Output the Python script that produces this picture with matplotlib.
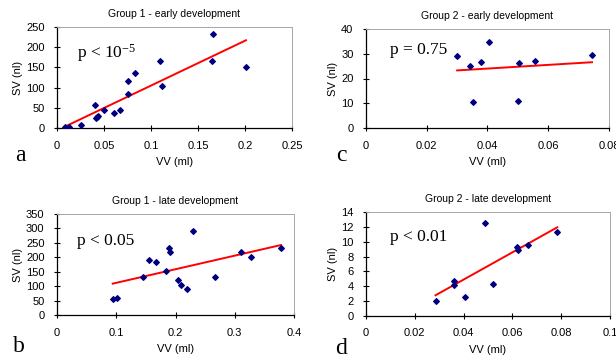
import matplotlib
matplotlib.use('Agg')
import matplotlib.pyplot as plt
import numpy as np

plt.rcParams['font.family'] = 'Liberation Sans'
plt.rcParams['mathtext.default'] = 'regular'

# Data
# Group 1 - early development
g1e_vv = [0.009, 0.012, 0.013, 0.026, 0.040, 0.041, 0.043, 0.044, 0.050, 0.061,
          0.067, 0.075, 0.076, 0.083, 0.110, 0.112, 0.165, 0.166, 0.201]
g1e_sv = [3, 1, 2, 8, 56, 25, 28, 30, 44, 37, 45, 117, 85, 136, 165, 104, 165, 233, 150]

# Group 2 - early development
g2e_vv = [0.030, 0.0344, 0.0352, 0.0378, 0.0404, 0.0501, 0.0503, 0.0557, 0.0744]
g2e_sv = [29.0, 25.1, 10.5, 26.8, 34.7, 10.8, 26.1, 27.2, 29.5]

# Group 1 - late development
g1l_vv = [0.094, 0.101, 0.145, 0.155, 0.167, 0.184, 0.189, 0.191, 0.205, 0.210,
          0.220, 0.229, 0.267, 0.311, 0.327, 0.378]
g1l_sv = [57, 60, 130, 190, 183, 154, 233, 219, 123, 103, 89, 291, 132, 220, 202, 233]

# Group 2 - late development
g2l_vv = [0.0285, 0.036, 0.036, 0.0407, 0.0488, 0.052, 0.0617, 0.0622, 0.0665, 0.0784]
g2l_sv = [2.07, 4.73, 4.14, 2.52, 12.57, 4.28, 9.32, 8.83, 9.6, 11.26]

panels = [
    # (x, y, title, p text, letter, xticks, yticks, axes box px, p pos, letter pos px)
    (g1e_vv, g1e_sv, 'Group 1 - early development', r'p < 10$^{-5}$', 'a',
     [0, 0.05, 0.1, 0.15, 0.2, 0.25], [0, 50, 100, 150, 200, 250],
     [57, 292, 27, 128], (0.085, 0.74), (20, 155)),
    (g2e_vv, g2e_sv, 'Group 2 - early development', 'p = 0.75', 'c',
     [0, 0.02, 0.04, 0.06, 0.08], [0, 10, 20, 30, 40],
     [366, 609, 29, 128], (0.099, 0.79), (341, 155)),
    (g1l_vv, g1l_sv, 'Group 1 - late development', 'p < 0.05', 'b',
     [0, 0.1, 0.2, 0.3, 0.4], [0, 50, 100, 150, 200, 250, 300, 350],
     [57, 294, 214, 315], (0.085, 0.73), (19, 346)),
    (g2l_vv, g2l_sv, 'Group 2 - late development', 'p < 0.01', 'd',
     [0, 0.02, 0.04, 0.06, 0.08, 0.1], [0, 2, 4, 6, 8, 10, 12, 14],
     [366, 610, 212, 316], (0.098, 0.76), (341, 349)),
]

W, H = 616, 358
fig = plt.figure(figsize=(W / 100, H / 100), dpi=100, facecolor='white')

for vv, sv, title, ptxt, letter, xt, yt, (l, r, t, b), ppos, lpos in panels:
    ax = fig.add_axes([l / W, 1 - b / H, (r - l) / W, (b - t) / H])
    ax.set_facecolor('white')
    ax.scatter(vv, sv, marker='D', s=8, color='#00007f', zorder=3)
    # linear trend line over the data range
    k, c0 = np.polyfit(vv, sv, 1)
    xs = np.array([min(vv), max(vv)])
    ax.plot(xs, k * xs + c0, color='red', lw=1.4, zorder=2)

    ax.set_xlim(xt[0], xt[-1])
    ax.set_ylim(yt[0], yt[-1])
    ax.set_xticks(xt)
    ax.set_xticklabels(['{:g}'.format(v) for v in xt])
    ax.set_yticks(yt)
    ax.set_yticklabels(['{:g}'.format(v) for v in yt])
    ax.tick_params(direction='inout', length=5, width=0.8, labelsize=8)
    ax.tick_params(axis='x', pad=6.5)
    ax.tick_params(axis='y', pad=6.5)
    for s in ('top', 'right'):
        ax.spines[s].set_color('#a6a6a6')
        ax.spines[s].set_linewidth(0.7)
    for s in ('left', 'bottom'):
        ax.spines[s].set_linewidth(0.9)
        ax.spines[s].set_clip_on(False)

    ax.set_title(title, fontsize=7.5, pad=7)
    ax.set_xlabel('VV (ml)', fontsize=8, labelpad=5)
    ax.set_ylabel('SV (nl)', fontsize=8, labelpad=2)
    ax.text(ppos[0], ppos[1], ptxt, transform=ax.transAxes, fontsize=12.5,
            family='Liberation Serif', va='center', ha='left')
    fig.text(lpos[0] / W, 1 - lpos[1] / H, letter, fontsize=17,
             family='Liberation Serif', va='center', ha='center')

plt.savefig('out.png', dpi=100)
